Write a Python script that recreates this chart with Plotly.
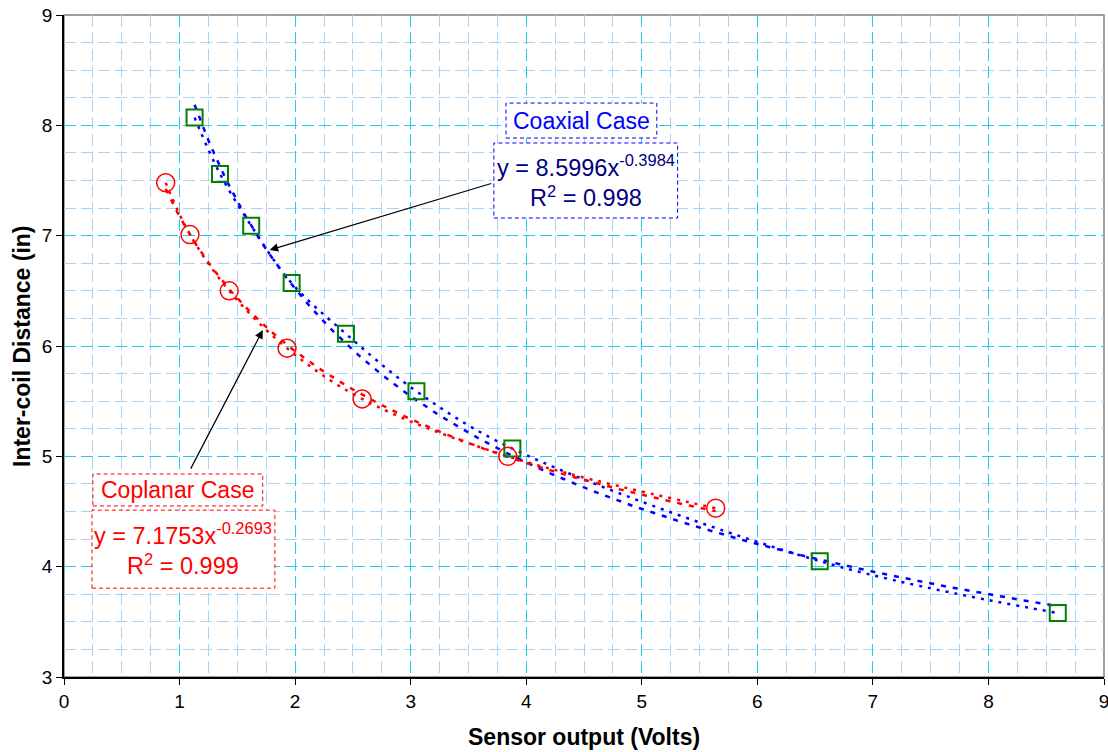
import numpy as np
import plotly.graph_objects as go

# Data
coax_x = [1.13, 1.35, 1.62, 1.97, 2.44, 3.05, 3.88, 6.54, 8.60]
coax_y = [8.07, 7.56, 7.09, 6.57, 6.11, 5.59, 5.07, 4.05, 3.58]
copl_x = [0.88, 1.09, 1.43, 1.93, 2.58, 3.84, 5.64]
copl_y = [7.48, 7.01, 6.50, 5.98, 5.52, 5.00, 4.53]

x_ticks = [0, 1, 2, 3, 4, 5, 6, 7, 8, 9]
y_ticks = [3, 4, 5, 6, 7, 8, 9]


def power_fit(xs, ys):
    b, ln_a = np.polyfit(np.log(xs), np.log(ys), 1)
    a = np.exp(ln_a)
    xx = np.linspace(min(xs), max(xs), 200)
    return xx, a * xx ** b


fig = go.Figure()

# smoothed data connection lines (dotted)
fig.add_trace(go.Scatter(x=coax_x, y=coax_y, mode="lines", line=dict(color="#0000ff", width=2.5, dash="3px,6px", shape="spline"), hoverinfo="skip", showlegend=False))
fig.add_trace(go.Scatter(x=copl_x, y=copl_y, mode="lines", line=dict(color="#ff0000", width=2.5, dash="3px,6px", shape="spline"), hoverinfo="skip", showlegend=False))

# power trend lines
fx, fy = power_fit(coax_x, coax_y)
fig.add_trace(go.Scatter(x=fx, y=fy, mode="lines", line=dict(color="#0000ff", width=2.5, dash="5px,7px"), showlegend=False))
fx, fy = power_fit(copl_x, copl_y)
fig.add_trace(go.Scatter(x=fx, y=fy, mode="lines", line=dict(color="#ff0000", width=2.5, dash="5px,7px"), showlegend=False))

# markers
fig.add_trace(go.Scatter(x=coax_x, y=coax_y, mode="markers", marker=dict(symbol="square-open", size=16, color="#008000", line=dict(width=2)), name="Coaxial", showlegend=False))
fig.add_trace(go.Scatter(x=copl_x, y=copl_y, mode="markers", marker=dict(symbol="circle-open", size=18, color="#ff0000", line=dict(width=1.5)), name="Coplanar", showlegend=False))

shapes = [
    dict(type="rect", xref="paper", yref="paper", x0=0, x1=1, y0=0, y1=1, line=dict(color="#808080", width=1.5), layer="below"),
    dict(type="rect", xref="x", yref="y", x0=3.825, x1=5.13, y0=7.885, y1=8.202, line=dict(color="#0000ff", width=1, dash="4px,3px"), fillcolor="white", layer="above"),
    dict(type="rect", xref="x", yref="y", x0=3.72, x1=5.31, y0=7.16, y1=7.84, line=dict(color="#0000ff", width=1, dash="4px,3px"), fillcolor="white", layer="above"),
    dict(type="rect", xref="x", yref="y", x0=0.25, x1=1.72, y0=4.55, y1=4.84, line=dict(color="#ff0000", width=1, dash="4px,3px"), fillcolor="white", layer="above"),
    dict(type="rect", xref="x", yref="y", x0=0.242, x1=1.825, y0=3.805, y1=4.512, line=dict(color="#ff0000", width=1, dash="4px,3px"), fillcolor="white", layer="above"),
]

font_fam = "Liberation Sans, Arial, sans-serif"
annotations = [
    dict(x=1.78, y=6.87, ax=3.71, ay=7.477, xref="x", yref="y", axref="x", ayref="y", text="", showarrow=True, arrowhead=2, arrowsize=1.4, arrowwidth=1.2, arrowcolor="black"),
    dict(x=1.72, y=6.144, ax=1.09, ay=4.875, xref="x", yref="y", axref="x", ayref="y", text="", showarrow=True, arrowhead=2, arrowsize=1.4, arrowwidth=1.2, arrowcolor="black"),
    dict(x=(3.825 + 5.13) / 2, y=(7.885 + 8.202) / 2, xref="x", yref="y", text="Coaxial Case", showarrow=False, font=dict(family=font_fam, size=23, color="#0000ff")),
    dict(x=(3.72 + 5.31) / 2, y=(7.16 + 7.84) / 2, xref="x", yref="y", text="y = 8.5996x<sup>-0.3984</sup><br>R<sup>2</sup> = 0.998", align="center", showarrow=False, font=dict(family=font_fam, size=23.5, color="#000080")),
    dict(x=(0.25 + 1.72) / 2, y=(4.55 + 4.84) / 2, xref="x", yref="y", text="Coplanar Case", showarrow=False, font=dict(family=font_fam, size=23, color="#ff0000")),
    dict(x=(0.242 + 1.825) / 2, y=(3.805 + 4.512) / 2, xref="x", yref="y", text="y = 7.1753x<sup>-0.2693</sup><br>R<sup>2</sup> = 0.999", align="center", showarrow=False, font=dict(family=font_fam, size=23.5, color="#ff0000")),
    # axis titles
    dict(x=0.5, y=0, xref="paper", yref="paper", yanchor="middle", yshift=-60, text="<b>Sensor output (Volts)</b>", showarrow=False, font=dict(family=font_fam, size=23, color="black")),
    dict(x=0, y=0.5, xref="paper", yref="paper", xanchor="center", xshift=-42, text="<b>Inter-coil Distance (in)</b>", textangle=-90, showarrow=False, font=dict(family=font_fam, size=23, color="black")),
]

fig.update_layout(
    width=1108, height=752,
    margin=dict(l=64, r=4, t=15, b=75),
    paper_bgcolor="white", plot_bgcolor="white",
    font=dict(family=font_fam, size=19, color="black"),
    shapes=shapes, annotations=annotations,
    showlegend=False,
)
fig.update_xaxes(
    range=[0, 9], tickvals=x_ticks, ticktext=[str(v) for v in x_ticks],
    tickfont=dict(family=font_fam, size=19, color="black"), ticklabeloverflow="allow",
    showline=True, linecolor="black", linewidth=1.5, ticks="outside", ticklen=6, tickcolor="black",
    showgrid=True, gridcolor="#22ccee", griddash="12px,5px", gridwidth=1,
    minor=dict(dtick=0.25, showgrid=True, gridcolor="#a8d4f8", griddash="12px,5px", gridwidth=1),
    zeroline=False, automargin=False,
)
fig.update_yaxes(
    range=[3, 9], tickvals=y_ticks, ticktext=[str(v) for v in y_ticks],
    tickfont=dict(family=font_fam, size=19, color="black"), ticklabeloverflow="allow",
    showline=True, linecolor="black", linewidth=1.5, ticks="outside", ticklen=6, tickcolor="black",
    showgrid=True, gridcolor="#22ccee", griddash="12px,5px", gridwidth=1,
    minor=dict(dtick=0.25, showgrid=True, gridcolor="#a8d4f8", griddash="12px,5px", gridwidth=1),
    zeroline=False, automargin=False,
)

# remove the browser's default 8px body margin so the figure fills the window exactly
fig.write_html(
    "out.html",
    config={"displayModeBar": False},
    post_script="document.body.style.margin='0';document.body.style.overflow='hidden';",
)
